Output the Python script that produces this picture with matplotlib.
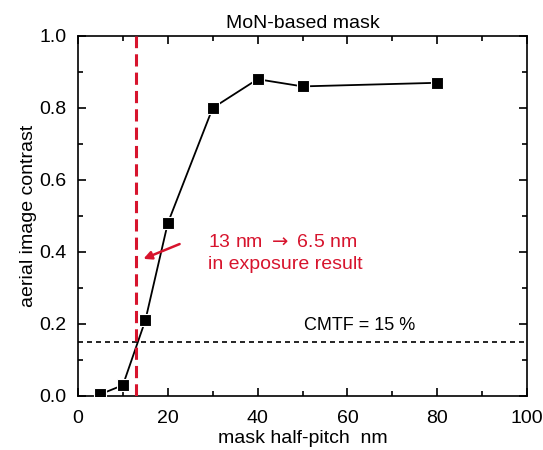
import matplotlib as mpl
mpl.use('Agg')
from matplotlib import pyplot as plt
from matplotlib.ticker import MultipleLocator

plt.rcParams['font.family'] = ['Liberation Sans', 'DejaVu Sans']
plt.rcParams['mathtext.fontset'] = 'dejavusans'

# data
half_pitch = [5, 10, 15, 20, 30, 40, 50, 80]
contrast = [0.005, 0.03, 0.21, 0.48, 0.80, 0.88, 0.86, 0.87]
cmtf = 0.15
cutoff_hp = 13

red = '#d7142d'

fig = plt.figure(figsize=(5.43, 4.5), dpi=100)
ax = fig.add_axes([0.1436, 0.12, 0.827, 0.80])

ax.plot(half_pitch, contrast, '-k', linewidth=1.3, marker='s', markersize=8.5,
        markerfacecolor='k', markeredgecolor='white', markeredgewidth=0.8, zorder=3)
ax.axhline(cmtf, color='k', linestyle=(0, (3, 2.4)), linewidth=1.2, zorder=2)
ax.axvline(cutoff_hp, color=red, linestyle=(0, (4, 2)), linewidth=2.2, zorder=4)

ax.text(50.3, 0.183, 'CMTF = 15 %', fontsize=13, ha='left', va='baseline')

ax.annotate('', xy=(14.0, 0.378), xytext=(23.2, 0.425),
            arrowprops=dict(arrowstyle='-|>', color=red, lw=1.8, mutation_scale=12))
ax.text(29.0, 0.352, '13 nm $\\rightarrow$ 6.5 nm\nin exposure result', color=red,
        fontsize=14, ha='left', va='baseline', linespacing=1.4)

ax.set_xlim(0, 100)
ax.set_ylim(0, 1.0)
ax.xaxis.set_major_locator(MultipleLocator(20))
ax.xaxis.set_minor_locator(MultipleLocator(10))
ax.yaxis.set_major_locator(MultipleLocator(0.2))
ax.yaxis.set_minor_locator(MultipleLocator(0.1))
ax.yaxis.set_major_formatter(mpl.ticker.FormatStrFormatter('%.1f'))
ax.tick_params(which='both', direction='in', top=True, right=True, width=1.2)
ax.tick_params(which='major', length=6, labelsize=14)
ax.tick_params(axis='x', which='major', pad=10)
ax.tick_params(axis='y', which='major', pad=8)
ax.tick_params(which='minor', length=3.5)
for s in ax.spines.values():
    s.set_linewidth(1.2)

ax.set_title('MoN-based mask', fontsize=14, pad=6)
ax.set_xlabel('mask half-pitch  nm', fontsize=14, labelpad=2)
ax.set_ylabel('aerial image contrast', fontsize=14, labelpad=2)

plt.savefig('out.png', dpi=100)
plt.close()
